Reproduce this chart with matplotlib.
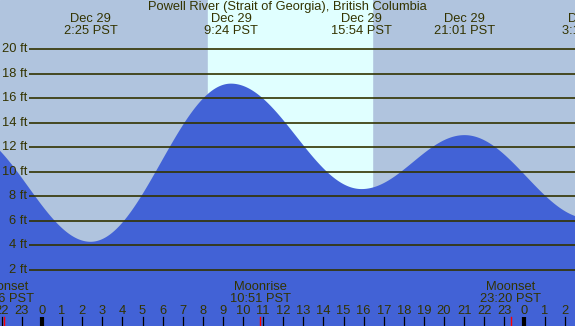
import numpy as np
import matplotlib.pyplot as plt

# tide extremes (hours from midnight Dec 29, feet)
tide_hours = [-3.8, 2.42, 9.40, 15.90, 21.02, 27.2]
tide_feet = [13.3, 4.3, 17.2, 8.6, 13.0, 6.2]
tide_labels = ['', 'Dec 29\n2:25 PST', 'Dec 29\n9:24 PST', 'Dec 29\n15:54 PST',
               'Dec 29\n21:01 PST', 'Dec 30\n3:12 PST']

sunrise, sunset = 8.27, 16.42

moon_hours = [-1.9, 10.85, 23.33]
moon_labels = ['Moonset\n22:06 PST', 'Moonrise\n10:51 PST', 'Moonset\n23:20 PST']

ft_levels = [2, 4, 6, 8, 10, 12, 14, 16, 18, 20]

txt = '#333300'
fs = 9.3
plt.rcParams['font.family'] = ['Liberation Sans', 'DejaVu Sans']

W, H = 575, 326
x0, pxh = 42.0, 20.1          # pixel of hour 0, pixels per hour
y0, pxf = 294.5, 12.26        # pixel of 0 ft, pixels per foot
xmin, xmax = -x0 / pxh, (W - x0) / pxh
ymin, ymax = -(H - y0) / pxf, y0 / pxf

fig = plt.figure(figsize=(W / 100, H / 100), dpi=100)
ax = fig.add_axes([0, 0, 1, 1])
ax.set_xlim(xmin, xmax)
ax.set_ylim(ymin, ymax)
ax.axis('off')

ax.axvspan(xmin, xmax, color='#B0C4DE', zorder=0)
ax.axvspan(sunrise, sunset, color='#E0FFFF', zorder=0)

# cosine curve between successive highs and lows
t = np.linspace(xmin, xmax, 800)
h = np.zeros_like(t)
for i in range(len(tide_hours) - 1):
    a, b = tide_hours[i], tide_hours[i + 1]
    m = (t >= a) & (t <= b)
    f = (t[m] - a) / (b - a)
    h[m] = tide_feet[i + 1] + (tide_feet[i] - tide_feet[i + 1]) * (1 + np.cos(np.pi * f)) / 2
ax.fill_between(t, ymin, h, color='#4262D6', lw=0, zorder=1)

xl = (29 - x0) / pxh
ax.hlines(ft_levels, xl, xmax, color=txt, lw=1.2, zorder=2)
for lv in ft_levels:
    ax.text(27 / W, lv, f'{lv} ft', transform=ax.get_yaxis_transform(),
            ha='right', va='center', fontsize=fs, color=txt)

tr = ax.get_xaxis_transform()
ax.text(0.5, 1 - 7 / H, 'Powell River (Strait of Georgia), British Columbia',
        transform=ax.transAxes, ha='center', va='center', fontsize=fs, color=txt)
for hr, lab in zip(tide_hours, tide_labels):
    if not lab:
        continue
    d, tm = lab.split('\n')
    ax.text(hr, 1 - 19 / H, d, transform=tr, ha='center', va='center', fontsize=fs, color=txt)
    ax.text(hr, 1 - 31 / H, tm, transform=tr, ha='center', va='center', fontsize=fs, color=txt)

for hr, lab in zip(moon_hours, moon_labels):
    a, b = lab.split('\n')
    ax.text(hr, 1 - 287 / H, a, transform=tr, ha='center', va='center', fontsize=fs, color=txt)
    ax.text(hr, 1 - 299 / H, b, transform=tr, ha='center', va='center', fontsize=fs, color=txt)
    ax.plot([hr, hr], [0, 9 / H], transform=tr, color='red', lw=1, zorder=4)

for hr in range(int(np.ceil(xmin)), int(np.floor(xmax)) + 1):
    ax.text(hr, 1 - 311.5 / H, str(hr % 24), transform=tr, ha='center', va='center',
            fontsize=fs, color=txt)
    if hr % 24 == 0:
        ax.plot([hr, hr], [0, 9 / H], transform=tr, color='black', lw=3, zorder=3,
                solid_capstyle='butt')
    else:
        ax.plot([hr, hr], [0, 9 / H], transform=tr, color='black', lw=0.9, zorder=3)

fig.savefig('out.png', dpi=100)
